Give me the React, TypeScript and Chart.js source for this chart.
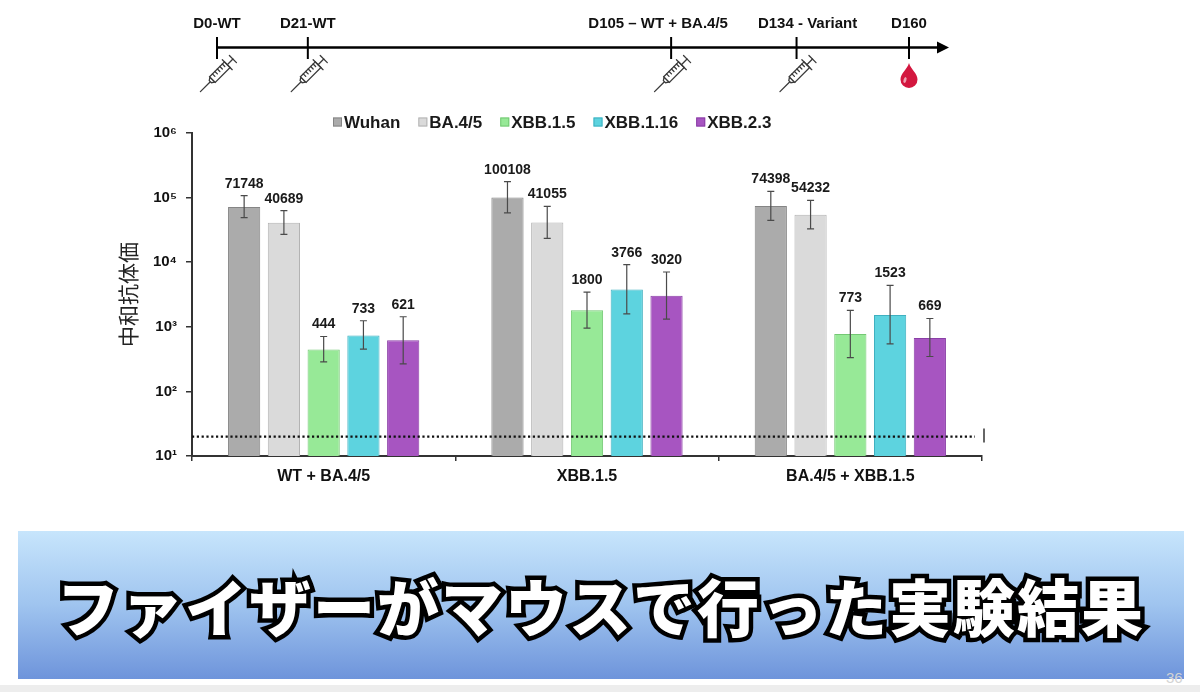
import React, { useEffect, useRef } from 'react';
import { Chart, registerables } from 'chart.js';

Chart.register(...registerables);

// ---------- data ----------
const groups = ['WT + BA.4/5', 'XBB.1.5', 'BA.4/5 + XBB.1.5'];
const seriesNames = ['Wuhan', 'BA.4/5', 'XBB.1.5', 'XBB.1.16', 'XBB.2.3'];

const wuhan = [71748, 100108, 74398];
const ba45 = [40689, 41055, 54232];
const xbb15 = [444, 1800, 773];
const xbb116 = [733, 3766, 1523];
const xbb23 = [621, 3020, 669];

const wuhanHigh = [107000, 177000, 125000];
const wuhanLow = [49000, 58000, 44500];
const ba45High = [62800, 73300, 90800];
const ba45Low = [27000, 23400, 32700];
const xbb15High = [708, 3450, 1790];
const xbb15Low = [287, 955, 334];
const xbb116High = [1240, 9140, 4370];
const xbb116Low = [451, 1590, 545];
const xbb23High = [1430, 7050, 1345];
const xbb23Low = [267, 1315, 347];

const yTickValues = [10, 100, 1000, 10000, 100000, 1000000];
const yTickLabels = ['10¹', '10²', '10³', '10⁴', '10⁵', '10⁶'];
const detectionLimit = 20;
const yAxisTitle = '中和抗体価';

const timelineDays = [0, 21, 105, 134, 160];
const timelineLabels = ['D0-WT', 'D21-WT', 'D105 – WT + BA.4/5', 'D134 - Variant', 'D160'];
const timelineEvents = ['dose', 'dose', 'dose', 'dose', 'blood'];

const bannerText = 'ファイザーがマウスで行った実験結果';

// ---------- styles ----------
const FONT = '"Liberation Sans", Arial, sans-serif';
const fills = ['#ababab', '#dadada', '#97e997', '#5dd3df', '#a755c1'];
const borders = ['#858585', '#b3b3b3', '#74c874', '#3fb0c0', '#8a3fa6'];
const timelineLabelShift = [0, 0, -13, 11, 0];

const seriesValues = [wuhan, ba45, xbb15, xbb116, xbb23];
const seriesHigh = [wuhanHigh, ba45High, xbb15High, xbb116High, xbb23High];
const seriesLow = [wuhanLow, ba45Low, xbb15Low, xbb116Low, xbb23Low];

function drawSyringe(ctx: CanvasRenderingContext2D, cx: number, cy: number) {
  ctx.save();
  ctx.translate(cx, cy);
  ctx.rotate(-Math.PI / 4);
  ctx.strokeStyle = '#3a3a3a';
  ctx.fillStyle = '#ffffff';
  ctx.lineWidth = 1.3;
  ctx.lineCap = 'round';
  // needle
  ctx.beginPath();
  ctx.moveTo(-27, 0);
  ctx.lineTo(-13, 0);
  ctx.stroke();
  // nozzle
  ctx.beginPath();
  ctx.moveTo(-13, -1.5);
  ctx.lineTo(-10, -3.5);
  ctx.lineTo(-10, 3.5);
  ctx.lineTo(-13, 1.5);
  ctx.closePath();
  ctx.fill();
  ctx.stroke();
  // barrel
  ctx.beginPath();
  ctx.rect(-10, -4, 21, 8);
  ctx.fill();
  ctx.stroke();
  for (let k = -6; k <= 8; k += 3.5) {
    ctx.beginPath();
    ctx.moveTo(k, -4);
    ctx.lineTo(k, -0.5);
    ctx.stroke();
  }
  // flange
  ctx.beginPath();
  ctx.moveTo(11, -7);
  ctx.lineTo(11, 7);
  ctx.stroke();
  // rod
  ctx.beginPath();
  ctx.moveTo(11, 0);
  ctx.lineTo(19, 0);
  ctx.stroke();
  // handle
  ctx.beginPath();
  ctx.moveTo(19, -5);
  ctx.lineTo(19, 5);
  ctx.stroke();
  ctx.restore();
}

function drawDrop(ctx: CanvasRenderingContext2D, x: number, top: number) {
  ctx.save();
  ctx.fillStyle = '#d3173f';
  ctx.beginPath();
  ctx.moveTo(x, top);
  ctx.bezierCurveTo(x + 2, top + 7, x + 8.5, top + 10, x + 8.5, top + 16.5);
  ctx.arc(x, top + 16.5, 8.5, 0, Math.PI, false);
  ctx.bezierCurveTo(x - 8.5, top + 10, x - 2, top + 7, x, top);
  ctx.fill();
  ctx.fillStyle = 'rgba(255,255,255,0.6)';
  ctx.beginPath();
  ctx.ellipse(x - 4, top + 17, 1.4, 3, 0.3, 0, Math.PI * 2);
  ctx.fill();
  ctx.restore();
}

const timelinePlugin = {
  id: 'timelineDraw',
  afterDraw(chart: any) {
    const ctx: CanvasRenderingContext2D = chart.ctx;
    const xs = chart.scales.x;
    const yLine = 47.5;
    const x0 = xs.getPixelForValue(timelineDays[0]);
    const xEnd = xs.getPixelForValue(timelineDays[timelineDays.length - 1]) + 40;
    ctx.save();
    ctx.strokeStyle = '#000';
    ctx.fillStyle = '#000';
    ctx.lineWidth = 2.5;
    ctx.beginPath();
    ctx.moveTo(x0, yLine);
    ctx.lineTo(xEnd - 8, yLine);
    ctx.stroke();
    ctx.beginPath();
    ctx.moveTo(xEnd, yLine);
    ctx.lineTo(xEnd - 12, yLine - 6);
    ctx.lineTo(xEnd - 12, yLine + 6);
    ctx.closePath();
    ctx.fill();
    timelineDays.forEach((d, i) => {
      const x = xs.getPixelForValue(d);
      ctx.strokeStyle = '#000';
      ctx.lineWidth = 2;
      ctx.beginPath();
      ctx.moveTo(x, 37);
      ctx.lineTo(x, 59);
      ctx.stroke();
      ctx.fillStyle = '#111';
      ctx.font = `bold 15px ${FONT}`;
      ctx.textAlign = 'center';
      ctx.textBaseline = 'alphabetic';
      ctx.fillText(timelineLabels[i], x + timelineLabelShift[i], 28);
      if (timelineEvents[i] === 'dose') drawSyringe(ctx, x + 2.5, 72.5);
      else drawDrop(ctx, x, 63);
    });
    ctx.restore();
  },
};

const lodPlugin = {
  id: 'lodLine',
  afterDatasetsDraw(chart: any) {
    const ctx: CanvasRenderingContext2D = chart.ctx;
    const y = chart.scales.y.getPixelForValue(detectionLimit);
    const { left, right } = chart.chartArea;
    ctx.save();
    ctx.strokeStyle = '#111';
    ctx.lineWidth = 2.2;
    ctx.setLineDash([2.2, 2.6]);
    ctx.beginPath();
    ctx.moveTo(left, y);
    ctx.lineTo(right - 7, y);
    ctx.stroke();
    ctx.setLineDash([]);
    ctx.lineWidth = 1.5;
    ctx.strokeStyle = '#333';
    ctx.beginPath();
    ctx.moveTo(right + 2, y - 8);
    ctx.lineTo(right + 2, y + 6);
    ctx.stroke();
    ctx.restore();
  },
};

const errorBarPlugin = {
  id: 'errorBars',
  afterDatasetsDraw(chart: any) {
    const ctx: CanvasRenderingContext2D = chart.ctx;
    const ys = chart.scales.y;
    chart.data.datasets.forEach((ds: any, i: number) => {
      const meta = chart.getDatasetMeta(i);
      meta.data.forEach((bar: any, j: number) => {
        const x = bar.x;
        const yHi = ys.getPixelForValue(ds.errHigh[j]);
        const yLo = ys.getPixelForValue(ds.errLow[j]);
        ctx.save();
        ctx.strokeStyle = '#4a4a4a';
        ctx.lineWidth = 1.2;
        ctx.beginPath();
        ctx.moveTo(x, yHi);
        ctx.lineTo(x, yLo);
        ctx.moveTo(x - 3.5, yHi);
        ctx.lineTo(x + 3.5, yHi);
        ctx.moveTo(x - 3.5, yLo);
        ctx.lineTo(x + 3.5, yLo);
        ctx.stroke();
        ctx.fillStyle = '#1a1a1a';
        ctx.font = `bold 14px ${FONT}`;
        ctx.textAlign = 'center';
        ctx.textBaseline = 'alphabetic';
        ctx.fillText(String(ds.data[j]), x, yHi - 8);
        ctx.restore();
      });
    });
  },
};

const legendPlugin = {
  id: 'customLegend',
  afterDraw(chart: any) {
    const ctx: CanvasRenderingContext2D = chart.ctx;
    let x = 333;
    const yMid = 22;
    ctx.save();
    ctx.font = `bold 17px ${FONT}`;
    ctx.textBaseline = 'alphabetic';
    ctx.textAlign = 'left';
    chart.data.datasets.forEach((ds: any) => {
      ctx.fillStyle = ds.backgroundColor;
      ctx.fillRect(x, yMid - 4.5, 9, 9);
      ctx.strokeStyle = ds.borderColor;
      ctx.lineWidth = 1;
      ctx.strokeRect(x + 0.5, yMid - 4, 8, 8);
      x += 11;
      ctx.fillStyle = '#1a1a1a';
      ctx.fillText(ds.label, x, yMid + 6);
      x += ctx.measureText(ds.label).width + 18;
    });
    ctx.restore();
  },
};

export default function App() {
  const mainRef = useRef<HTMLCanvasElement>(null);
  const tlRef = useRef<HTMLCanvasElement>(null);

  useEffect(() => {
    Chart.defaults.font.family = FONT;
    const main = new Chart(mainRef.current as HTMLCanvasElement, {
      type: 'bar',
      data: {
        labels: groups,
        datasets: seriesValues.map((vals, i) => ({
          label: seriesNames[i],
          data: vals,
          backgroundColor: fills[i],
          borderColor: borders[i],
          borderWidth: 1,
          categoryPercentage: 0.755,
          barPercentage: 0.81,
          errHigh: seriesHigh[i],
          errLow: seriesLow[i],
        })) as any,
      },
      options: {
        responsive: false,
        animation: false,
        layout: { padding: { top: 33, right: 218, bottom: 0, left: 0 } },
        plugins: { legend: { display: false }, tooltip: { enabled: false } },
        scales: {
          x: {
            grid: { display: true, drawOnChartArea: false, drawTicks: true, tickLength: 5, color: '#333', lineWidth: 1.5 },
            border: { display: true, color: '#333', width: 2 },
            ticks: { font: { size: 16, weight: 'bold' }, color: '#111', padding: 6, maxRotation: 0 },
            afterFit: (s: any) => {
              s.height = 44;
            },
          },
          y: {
            type: 'logarithmic',
            min: 10,
            max: 1000000,
            afterBuildTicks: (s: any) => {
              s.ticks = yTickValues.map((v) => ({ value: v, major: true }));
            },
            ticks: {
              callback: (v: any) => yTickLabels[Math.round(Math.log10(Number(v))) - 1] ?? '',
              font: { size: 15, weight: 'bold' },
              color: '#111',
              padding: 9,
            },
            grid: { display: true, drawOnChartArea: false, drawTicks: true, tickLength: 6, color: '#333', lineWidth: 1.5 },
            border: { display: true, color: '#333', width: 2 },
            title: {
              display: true,
              text: yAxisTitle,
              font: { family: '"Noto Sans CJK JP", sans-serif', size: 21 },
              color: '#222',
              padding: { top: 115, bottom: 0 },
            },
            afterFit: (s: any) => {
              s.width = 192;
            },
          },
        },
      } as any,
      plugins: [lodPlugin, errorBarPlugin, legendPlugin],
    });

    const timeline = new Chart(tlRef.current as HTMLCanvasElement, {
      type: 'scatter',
      data: {
        datasets: [
          {
            label: 'timeline',
            data: timelineDays.map((d) => ({ x: d, y: 0 })),
            pointRadius: 0,
          },
        ],
      },
      options: {
        responsive: false,
        animation: false,
        layout: { padding: { top: 0, bottom: 0, left: 217, right: 291 } },
        plugins: { legend: { display: false }, tooltip: { enabled: false } },
        scales: {
          x: { type: 'linear', min: 0, max: 160, display: false },
          y: { min: -1, max: 1, display: false },
        },
      } as any,
      plugins: [timelinePlugin],
    });

    return () => {
      main.destroy();
      timeline.destroy();
    };
  }, []);

  const bannerTextStyle: React.CSSProperties = {
    position: 'absolute',
    inset: 0,
    display: 'flex',
    alignItems: 'center',
    justifyContent: 'center',
    fontFamily: '"Noto Sans CJK JP", sans-serif',
    fontWeight: 900,
    fontSize: 62,
    letterSpacing: 2,
    whiteSpace: 'nowrap',
  };

  return (
    <div style={{ position: 'absolute', left: 0, top: 0, width: 1200, height: 692, background: '#fff', overflow: 'hidden' }}>
      <canvas ref={tlRef} width={1200} height={100} style={{ position: 'absolute', left: 0, top: 0, width: 1200, height: 100 }} />
      <canvas ref={mainRef} width={1200} height={400} style={{ position: 'absolute', left: 0, top: 100, width: 1200, height: 400 }} />
      <div
        style={{
          position: 'absolute',
          left: 18,
          top: 531,
          width: 1166,
          height: 148,
          background: 'linear-gradient(180deg, #c7e5fc 0%, #9fc4ef 50%, #6e94db 100%)',
        }}
      >
        <div style={{ ...bannerTextStyle, color: 'transparent', WebkitTextStroke: '9px #000' }}>{bannerText}</div>
        <div style={{ ...bannerTextStyle, color: '#fff' }}>{bannerText}</div>
      </div>
      <div style={{ position: 'absolute', left: 1166, top: 669, fontFamily: FONT, fontSize: 15, color: '#d4d4d4' }}>36</div>
      <div style={{ position: 'absolute', left: 0, top: 685, width: 1200, height: 7, background: '#ededed' }} />
    </div>
  );
}
